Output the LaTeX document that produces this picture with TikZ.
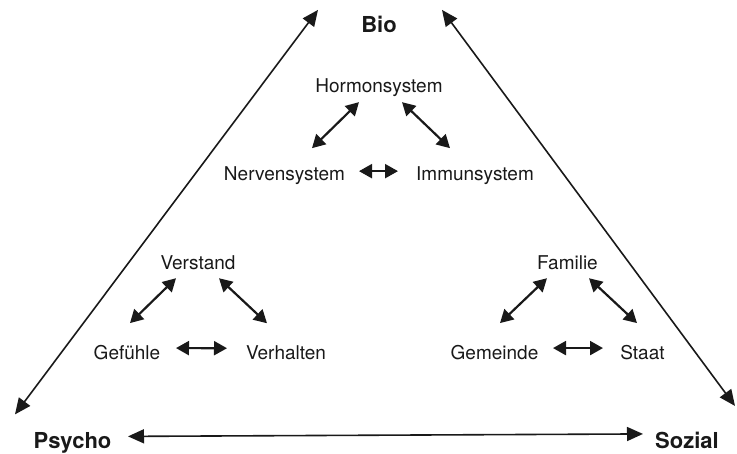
\documentclass[tikz,border=0pt]{standalone}
\usepackage{fontspec}
\setmainfont{TeX Gyre Heros}
\usepackage{tikz}
\usetikzlibrary{calc, arrows.meta}

\tikzset{
  term/.style={anchor=base, inner sep=0pt, text=black!90, font=\fontsize{19}{22}\selectfont},
  pole/.style={anchor=base, inner sep=0pt, text=black!90, font=\fontsize{22}{26}\selectfont\bfseries},
  link/.style={{Triangle[length=13pt,width=14pt]}-{Triangle[length=13pt,width=14pt]}, line width=2.2pt, draw=black!90},
  axis/.style={{Triangle[length=16pt,width=14pt]}-{Triangle[length=16pt,width=14pt]}, line width=1.6pt, draw=black!90}
}

\begin{document}
\begin{tikzpicture}[x=1pt, y=-1pt]
  \useasboundingbox (0,0) rectangle (737,453);
  % poles
  \node[pole] (bio)    at (379,32)  {Bio};
  \node[pole] (psycho) at (72.5,448) {Psycho};
  \node[pole] (sozial) at (687,448) {Sozial};
  \draw[axis] ($(psycho)+(-57.5,-28)$) -- ($(bio)+(-61,-14)$);
  \draw[axis] ($(bio)+(63,-14)$) -- ($(sozial)+(48,-34)$);
  \draw[axis] ($(psycho)+(55.5,-6)$) -- ($(sozial)+(-44,-6)$);
  % bio
  \node[term] (hormon) at (379,92)   {Hormonsystem};
  \node[term] (nerven) at (284.5,180) {Nervensystem};
  \node[term] (immun)  at (475,180)  {Immunsystem};
  \draw[link] ($(hormon)+(-20,15)$) -- ($(nerven)+(27.5,-27)$);
  \draw[link] ($(hormon)+(23,15)$) -- ($(immun)+(-25,-27)$);
  \draw[link] ($(nerven)+(74.5,-4)$) -- ($(immun)+(-77,-4)$);
  % psycho
  \node[term] (verstand)  at (198,269) {Verstand};
  \node[term] (gefuehle)  at (127,359) {Gefühle};
  \node[term] (verhalten) at (286,359) {Verhalten};
  \draw[link] ($(verstand)+(-22,16)$) -- ($(gefuehle)+(3,-29)$);
  \draw[link] ($(verstand)+(21,16)$) -- ($(verhalten)+(-19,-29)$);
  \draw[link] ($(gefuehle)+(49,-4)$) -- ($(verhalten)+(-59,-4)$);
  % sozial
  \node[term] (familie)  at (567.5,269) {Familie};
  \node[term] (gemeinde) at (494.5,359) {Gemeinde};
  \node[term] (staat)    at (642.5,359) {Staat};
  \draw[link] ($(familie)+(-20.5,16)$) -- ($(gemeinde)+(5.5,-29)$);
  \draw[link] ($(familie)+(21.5,16)$) -- ($(staat)+(-5.5,-29)$);
  \draw[link] ($(gemeinde)+(58.5,-4)$) -- ($(staat)+(-39.5,-4)$);
\end{tikzpicture}
\end{document}
